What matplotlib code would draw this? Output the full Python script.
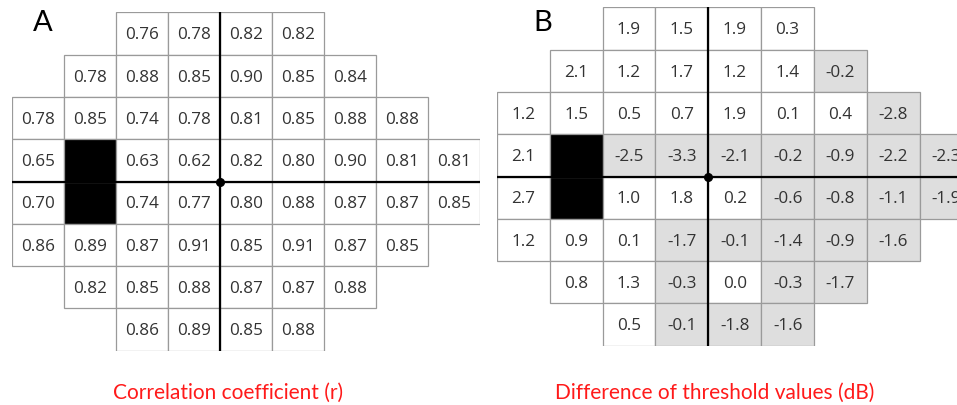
import matplotlib.pyplot as plt
from matplotlib.patches import Rectangle

# 24-2 style test grid: each row starts at a given column (row 0 = top)
row_start = [2, 1, 0, 0, 0, 0, 1, 2]

# panel A: correlation coefficient per test point (None = blind spot)
corr_r = [
    [0.76, 0.78, 0.82, 0.82],
    [0.78, 0.88, 0.85, 0.90, 0.85, 0.84],
    [0.78, 0.85, 0.74, 0.78, 0.81, 0.85, 0.88, 0.88],
    [0.65, None, 0.63, 0.62, 0.82, 0.80, 0.90, 0.81, 0.81],
    [0.70, None, 0.74, 0.77, 0.80, 0.88, 0.87, 0.87, 0.85],
    [0.86, 0.89, 0.87, 0.91, 0.85, 0.91, 0.87, 0.85],
    [0.82, 0.85, 0.88, 0.87, 0.87, 0.88],
    [0.86, 0.89, 0.85, 0.88],
]

# panel B: difference of threshold values in dB
diff_db = [
    [1.9, 1.5, 1.9, 0.3],
    [2.1, 1.2, 1.7, 1.2, 1.4, -0.2],
    [1.2, 1.5, 0.5, 0.7, 1.9, 0.1, 0.4, -2.8],
    [2.1, None, -2.5, -3.3, -2.1, -0.2, -0.9, -2.2, -2.3],
    [2.7, None, 1.0, 1.8, 0.2, -0.6, -0.8, -1.1, -1.9],
    [1.2, 0.9, 0.1, -1.7, -0.1, -1.4, -0.9, -1.6],
    [0.8, 1.3, -0.3, 0.0, -0.3, -1.7],
    [0.5, -0.1, -1.8, -1.6],
]

panel_letters = ["A", "B"]
captions = ["Correlation coefficient (r)", "Difference of threshold values (dB)"]

W, H = 957, 406
fig = plt.figure(figsize=(W / 100, H / 100), dpi=100)


def px_axes(left, top, right, bottom):
    return fig.add_axes([left / W, 1 - bottom / H, (right - left) / W, (bottom - top) / H])


def draw_field(ax, values, fmt, shade_negative):
    ax.set_xlim(0, 9)
    ax.set_ylim(8, 0)
    ax.axis("off")
    for r, row in enumerate(values):
        for k, v in enumerate(row):
            c = row_start[r] + k
            if v is None:
                face = "black"
            elif shade_negative and v < 0:
                face = "#dedede"
            else:
                face = "white"
            ax.add_patch(Rectangle((c, r), 1, 1, facecolor=face,
                                   edgecolor="#9a9a9a", linewidth=0.9, zorder=1))
            if v is not None:
                ax.text(c + 0.5, r + 0.52, fmt.format(v), ha="center", va="center",
                        fontsize=12.3, color="#333333", family="Open Sans", zorder=3)
    # fixation axes and centre dot
    ax.plot([4, 4], [0, 8], color="black", lw=1.6, zorder=4, solid_capstyle="butt")
    ax.plot([0, 9], [4, 4], color="black", lw=1.6, zorder=4, solid_capstyle="butt")
    ax.plot([4], [4], "o", color="black", ms=5.5, zorder=5)


axA = px_axes(11.7, 13.3, 480, 351.7)
draw_field(axA, corr_r, "{:.2f}", False)

axB = px_axes(496.7, 8.3, 496.7 + 9 * 52.9, 346.7)
draw_field(axB, diff_db, "{:.1f}", True)

fig.text(43 / W, 1 - 23 / H, panel_letters[0], ha="center", va="center",
         fontsize=21, family="Lato", color="black")
fig.text(543 / W, 1 - 23 / H, panel_letters[1], ha="center", va="center",
         fontsize=21, family="Lato", color="black")

fig.text(228 / W, 1 - 393 / H, captions[0], ha="center", va="center",
         fontsize=15, family="Lato", color="#ff1a1a")
fig.text(715 / W, 1 - 393 / H, captions[1], ha="center", va="center",
         fontsize=15, family="Lato", color="#ff1a1a")

fig.savefig("out.png", dpi=100, facecolor="white")
